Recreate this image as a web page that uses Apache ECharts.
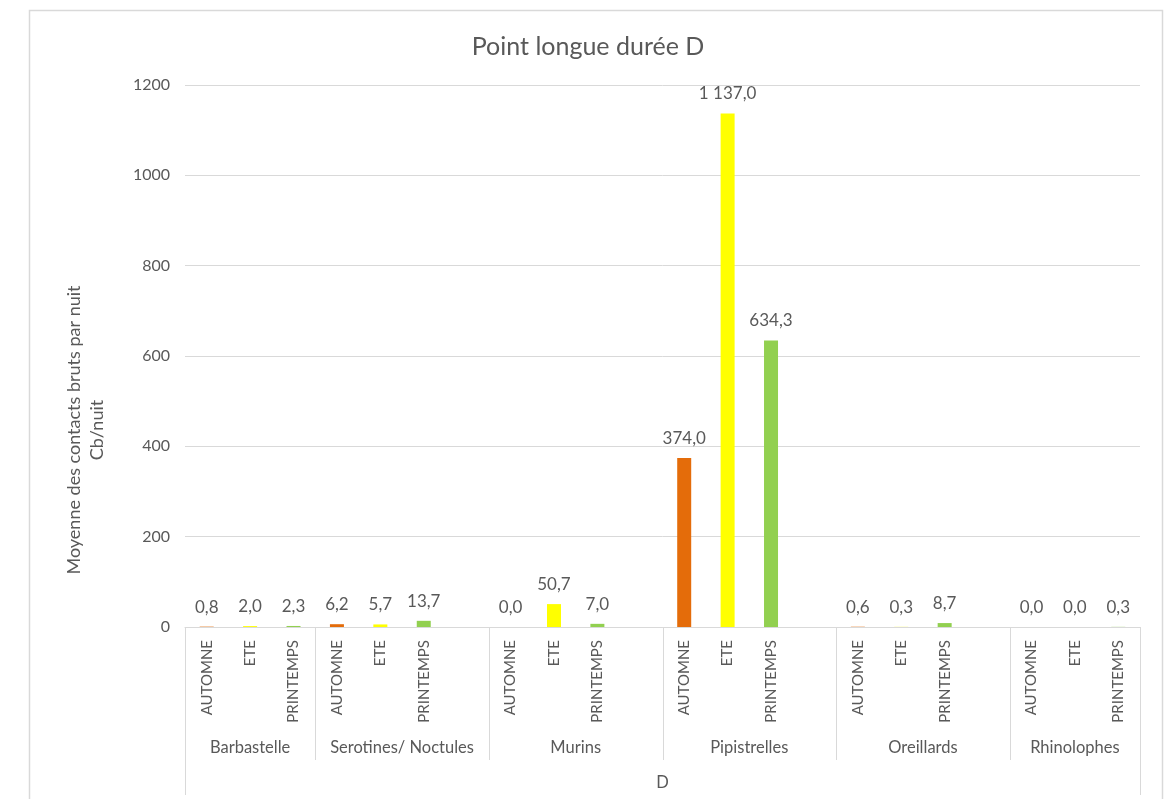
<!DOCTYPE html>
<html>
<head>
<meta charset="utf-8">
<title>Point longue durée D</title>
<script src="https://cdn.jsdelivr.net/npm/echarts@6/dist/echarts.min.js"></script>
<style>
  html, body { margin: 0; padding: 0; background: #ffffff; }
  #chart { width: 1176px; height: 799px; }
</style>
</head>
<body>
<div id="chart"></div>
<script>
// Bat activity per group and season (mean raw contacts per night)
const groups = ['Barbastelle', 'Serotines/ Noctules', 'Murins', 'Pipistrelles', 'Oreillards', 'Rhinolophes'];
const seasons = ['AUTOMNE', 'ETE', 'PRINTEMPS'];
const automne = [0.8, 6.2, 0.0, 374.0, 0.6, 0.0];
const ete = [2.0, 5.7, 50.7, 1137.0, 0.3, 0.0];
const printemps = [2.3, 13.7, 7.0, 634.3, 8.7, 0.3];
// the source table has an empty row closing these groups
const emptyRowAfter = [false, true, true, true, true, false];
const yTicks = [0, 200, 400, 600, 800, 1000, 1200];
const siteLabel = 'D';
const titleText = 'Point longue durée D';
const yTitle = ['Moyenne des contacts bruts par nuit', 'Cb/nuit'];

const seasonColors = ['#E46C0A', '#FFFF00', '#92D050'];
const FONT = 'Lato, "Open Sans", sans-serif';
const TEXT = '#595959';
const LINE = '#D9D9D9';

// Flatten groups into category slots
const seasonValues = [automne, ete, printemps];
const categories = [];
const barData = [];
const groupSpans = [];
groups.forEach((g, gi) => {
  const start = categories.length;
  seasons.forEach((s, si) => {
    categories.push(s);
    barData.push({ value: seasonValues[si][gi], itemStyle: { color: seasonColors[si] } });
  });
  if (emptyRowAfter[gi]) {
    categories.push('');
    barData.push(null);
  }
  groupSpans.push({ name: g, start: start, end: categories.length - 1 });
});

function frNumber(v) {
  const parts = v.toFixed(1).split('.');
  const intPart = parts[0].replace(/\B(?=(\d{3})+(?!\d))/g, ' ');
  return intPart + ',' + parts[1];
}

const chart = echarts.init(document.getElementById('chart'), null, { renderer: 'canvas' });

const option = {
  backgroundColor: '#ffffff',
  animation: false,
  textStyle: { fontFamily: FONT },
  title: {
    text: titleText,
    left: 'center',
    top: 29,
    textStyle: { fontFamily: FONT, fontSize: 25, fontWeight: 'normal', color: TEXT }
  },
  grid: { left: 185, right: 36, top: 85, bottom: 172, containLabel: false },
  xAxis: {
    type: 'category',
    data: categories,
    boundaryGap: true,
    axisLine: { show: true, lineStyle: { color: LINE, width: 1 } },
    axisTick: { show: false },
    axisLabel: {
      interval: 0,
      rotate: 90,
      margin: 13,
      fontFamily: FONT,
      fontSize: 15,
      color: TEXT
    },
    splitLine: { show: false }
  },
  yAxis: {
    type: 'value',
    min: yTicks[0],
    max: yTicks[yTicks.length - 1],
    interval: yTicks[1] - yTicks[0],
    axisLine: { show: false },
    axisTick: { show: false },
    axisLabel: {
      fontFamily: FONT, fontSize: 16, color: TEXT, margin: 15,
      formatter: v => String(v)
    },
    splitLine: { show: true, lineStyle: { color: LINE, width: 1 } }
  },
  series: [{
    type: 'bar',
    data: barData,
    barWidth: 14,
    label: {
      show: true,
      position: 'top',
      distance: 11,
      fontFamily: FONT,
      fontSize: 17,
      color: TEXT,
      formatter: p => frNumber(p.value)
    }
  }]
};

chart.setOption(option);

// Multi-level category axis decorations: separators, group names, site label
function buildGraphics() {
  const px = i => chart.convertToPixel({ xAxisIndex: 0 }, i);
  const band = px(1) - px(0);
  const baseY = chart.convertToPixel({ yAxisIndex: 0 }, 0);
  const leftX = px(0) - band / 2;
  const rightX = px(categories.length - 1) + band / 2;
  const sepBottom = baseY + 133;
  const outerBottom = baseY + 168;
  const els = [];

  // chart frame
  els.push({
    type: 'rect', silent: true, z: -1,
    shape: { x: 29.5, y: 10.5, width: 1133, height: 800 },
    style: { fill: null, stroke: LINE, lineWidth: 1.5 }
  });

  // outer edges of the two-level axis
  [leftX, rightX].forEach(x => {
    els.push({
      type: 'line', silent: true,
      shape: { x1: Math.round(x) + 0.5, y1: baseY, x2: Math.round(x) + 0.5, y2: outerBottom },
      style: { stroke: LINE, lineWidth: 1 }
    });
  });

  groupSpans.forEach((gs, k) => {
    const x0 = px(gs.start) - band / 2;
    const x1 = px(gs.end) + band / 2;
    if (k > 0) {
      els.push({
        type: 'line', silent: true,
        shape: { x1: Math.round(x0) + 0.5, y1: baseY, x2: Math.round(x0) + 0.5, y2: sepBottom },
        style: { stroke: LINE, lineWidth: 1 }
      });
    }
    els.push({
      type: 'text', silent: true,
      x: (x0 + x1) / 2, y: baseY + 121,
      style: { text: gs.name, font: '16.5px ' + FONT, fill: TEXT, align: 'center', verticalAlign: 'middle' }
    });
  });

  els.push({
    type: 'text', silent: true,
    x: (leftX + rightX) / 2, y: baseY + 156,
    style: { text: siteLabel, font: '16.5px ' + FONT, fill: TEXT, align: 'center', verticalAlign: 'middle' }
  });

  // value axis title, centred on the plot area including category labels
  els.push({
    type: 'text', silent: true,
    x: 86, y: 430, rotation: Math.PI / 2,
    style: {
      text: yTitle.join('\n'), font: '18px ' + FONT, fill: TEXT,
      align: 'center', verticalAlign: 'middle', lineHeight: 23
    }
  });

  chart.setOption({ graphic: els });
}

buildGraphics();
</script>
</body>
</html>
